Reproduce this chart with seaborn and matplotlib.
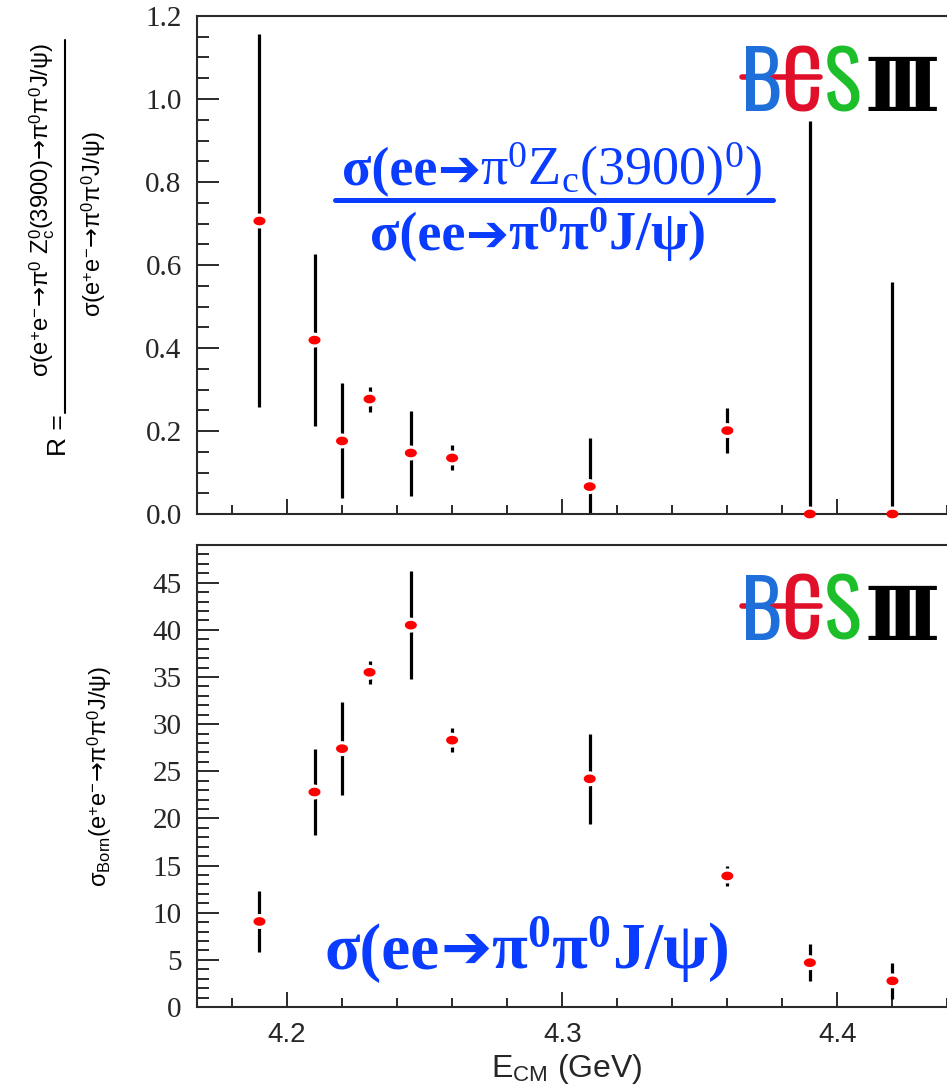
import numpy as np
import matplotlib
matplotlib.use("Agg")
import matplotlib.pyplot as plt
import seaborn as sns
from matplotlib import font_manager
from matplotlib.path import Path
from matplotlib.markers import MarkerStyle
from matplotlib.lines import Line2D
from matplotlib.offsetbox import TextArea, HPacker, AnnotationBbox
from matplotlib.ticker import MultipleLocator, FormatStrFormatter

# ---- data -------------------------------------------------------------
energy = [4.19, 4.21, 4.22, 4.23, 4.245, 4.26, 4.31, 4.36, 4.39, 4.42]

# ratio R = sigma(pi0 Zc(3900)0 -> pi0 pi0 J/psi) / sigma(pi0 pi0 J/psi)
ratio = [0.706, 0.419, 0.176, 0.277, 0.147, 0.135, 0.066, 0.201, 0.0, 0.0]
ratio_err_lo = [0.448, 0.207, 0.138, 0.032, 0.104, 0.030, 0.066, 0.053, 0.0, 0.0]
ratio_err_hi = [0.451, 0.207, 0.139, 0.028, 0.102, 0.031, 0.117, 0.055, 0.946, 0.560]

# Born cross section of e+e- -> pi0 pi0 J/psi (pb)
sigma_born = [9.07, 22.8, 27.4, 35.5, 40.5, 28.3, 24.2, 13.9, 4.7, 2.77]
sigma_err = [3.2, 4.6, 4.9, 1.25, 5.75, 1.25, 4.8, 1.05, 1.95, 1.9]

x_ticks = [4.2, 4.3, 4.4]
x_ticklabels = ["4.2", "4.3", "4.4"]

# ---- style ------------------------------------------------------------
sns.set_theme(style="white")
plt.rcParams.update({
    "font.family": ["Liberation Sans", "DejaVu Sans"],
    "mathtext.fontset": "custom",
    "mathtext.rm": "Liberation Serif",
    "mathtext.it": "Liberation Serif",
    "mathtext.bf": "Liberation Serif:bold",
    "mathtext.sf": "Liberation Sans",
    "mathtext.cal": "DejaVu Sans",
    "axes.edgecolor": "#2a2a2a",
    "axes.linewidth": 1.5,
})

installed = {f.name for f in font_manager.fontManager.ttflist}
logo_family = next((f for f in ["Oswald", "Roboto Condensed", "Archivo Narrow",
                                "PT Sans Narrow", "Liberation Sans Narrow"]
                    if f in installed), "DejaVu Sans")

W, H = 947, 1087
fig = plt.figure(figsize=(W / 100, H / 100), dpi=100)
fig.patch.set_facecolor("white")


def fx(px):
    return px / W


def fy(py):
    return 1 - py / H


x_min, x_max = 4.1673, 4.45
ax_left, ax_w = 197, 778
ax1 = fig.add_axes([fx(ax_left), fy(514), ax_w / W, (514 - 16) / H])
ax2 = fig.add_axes([fx(ax_left), fy(1007), ax_w / W, (1007 - 545) / H])

# ellipse-shaped markers plus a white halo that opens a gap in the bar
t = np.linspace(0, 2 * np.pi, 64)
dot = MarkerStyle(Path(np.column_stack([np.cos(t), 0.72 * np.sin(t)]), closed=True))
halo = MarkerStyle(Path(np.column_stack([np.cos(t), 1.15 * np.sin(t)]), closed=True))

blue = "#0a3cff"


def draw_points(ax, y, yerr):
    ax.errorbar(energy, y, yerr=yerr, fmt="none", ecolor="black",
                elinewidth=2.3, capsize=0, zorder=2)
    sns.scatterplot(x=energy, y=y, ax=ax, marker=halo, s=117, color="white",
                    edgecolor="none", linewidth=0, zorder=2.2, clip_on=False,
                    legend=False)
    sns.scatterplot(x=energy, y=y, ax=ax, marker=dot, s=75, color="red",
                    edgecolor="none", linewidth=0, zorder=3, clip_on=False,
                    legend=False)


draw_points(ax1, ratio, [ratio_err_lo, ratio_err_hi])
draw_points(ax2, sigma_born, sigma_err)

for ax in (ax1, ax2):
    ax.set_xlim(x_min, x_max)
    ax.xaxis.set_major_locator(MultipleLocator(0.1))
    ax.xaxis.set_minor_locator(MultipleLocator(0.02))
    ax.tick_params(axis="x", which="major", direction="in", length=11,
                   width=1.4, color="#2a2a2a", top=False, bottom=True)
    ax.tick_params(axis="x", which="minor", direction="in", length=6.5,
                   width=1.4, color="#2a2a2a", top=False, bottom=True)
    ax.tick_params(axis="y", which="major", direction="in", length=16,
                   width=1.4, color="#2a2a2a", right=False, left=True, pad=11)
    ax.tick_params(axis="y", which="minor", direction="in", length=8.5,
                   width=1.4, color="#2a2a2a", right=False, left=True)
    ax.spines["right"].set_visible(False)
    ax.set_xlabel("")
    ax.set_ylabel("")

ax1.set_ylim(0, 1.2)
ax1.yaxis.set_major_locator(MultipleLocator(0.2))
ax1.yaxis.set_minor_locator(MultipleLocator(0.05))
ax1.yaxis.set_major_formatter(FormatStrFormatter("%.1f"))
ax1.tick_params(axis="x", labelbottom=False)

ax2.set_ylim(0, 49)
ax2.yaxis.set_major_locator(MultipleLocator(5))
ax2.yaxis.set_minor_locator(MultipleLocator(1))
ax2.yaxis.set_major_formatter(FormatStrFormatter("%d"))
ax2.set_xticks(x_ticks)
ax2.set_xticklabels(x_ticklabels)
ax2.tick_params(axis="x", labelsize=20, pad=11)

for ax in (ax1, ax2):
    for lab in ax.get_yticklabels():
        lab.set_fontfamily("Liberation Serif")
        lab.set_fontsize(21)

ax2.set_xlabel(r"E$_{\mathsf{CM}}$ (GeV)", fontsize=23)
ax2.xaxis.label.set_va("baseline")
ax2.xaxis.set_label_coords((567 - ax_left) / ax_w, -(1077 - 1007) / (1007 - 545))

# ---- y-axis titles ----------------------------------------------------
sans = dict(family="Liberation Sans", color="black", rotation=90,
            ha="center", va="center")
arr = r"$\mathcal{→}$"          # unspaced arrow taken from DejaVu Sans
sup0 = r"$^{\mathsf{0}}$"
ee = r"e$^{\mathsf{+}}$e$^{\mathsf{-}}$"
numer = (f"σ({ee}{arr}π{sup0} " + r"Z$_{\mathsf{c}}^{\mathsf{0}}$"
         + f"(3900){arr}π{sup0}π{sup0}J/ψ)")
denom = f"σ({ee}{arr}π{sup0}π{sup0}J/ψ)"
fig.text(fx(42), fy(210), numer, fontsize=17.2, **sans)
fig.text(fx(94), fy(224), denom, fontsize=17, **sans)
fig.text(fx(59), fy(435), "R =", fontsize=19, **sans)
fig.add_artist(Line2D([fx(65), fx(65)], [fy(40), fy(413)], color="black",
                      lw=1.5, transform=fig.transFigure))

fig.text(fx(100), fy(776), r"σ$_{\mathsf{Born}}$(" + f"{ee}{arr}π{sup0}π{sup0}J/ψ)",
         fontsize=17, **sans)

# ---- blue process labels ------------------------------------------------
def serif(size, bold=True):
    return dict(color=blue, fontsize=size, family="Liberation Serif",
                weight="bold" if bold else "normal")


def arrow(size):
    return dict(color=blue, fontsize=size, family="DejaVu Sans", weight="bold")


def place(parts, cx, cy):
    box = HPacker(children=[TextArea(s, textprops=p) for s, p in parts],
                  align="baseline", pad=0, sep=0)
    fig.add_artist(AnnotationBbox(box, (cx, H - cy), xycoords="figure pixels",
                                  box_alignment=(0.5, 0.5), frameon=False, pad=0))


place([("σ(ee", serif(39)), ("➔", arrow(37)),
       (r"π$^{0}$Z$_{c}$(3900)$^{0}$)", serif(39, bold=False))], 552, 170)
place([("σ(ee", serif(39)), ("➔", arrow(37)),
       (r"π$^{\mathbf{0}}$π$^{\mathbf{0}}$J/ψ)", serif(39))], 538, 235)
fig.add_artist(Line2D([fx(335), fx(773)], [fy(200), fy(200)], color=blue,
                      lw=3.6, transform=fig.transFigure))
place([("σ(ee", serif(47)), ("➔", arrow(44)),
       (r"π$^{\mathbf{0}}$π$^{\mathbf{0}}$J/ψ)", serif(47))], 527, 950)

# ---- BESIII logos -------------------------------------------------------
def logo(top):
    base = top + 68
    kw = dict(fontsize=57, weight="semibold", va="baseline", ha="left",
              family=[logo_family, "DejaVu Sans"])
    fig.text(fx(741), fy(base), "B", color="#1e6fd9", **kw)
    fig.text(fx(781), fy(base), "C", color="#e0102a", **kw)
    fig.text(fx(824), fy(base), "S", color="#1cbf2a", **kw)
    fig.text(fx(864), fy(base), "Ⅲ", color="black", fontsize=54, weight="bold",
             va="baseline", ha="left", family=["DejaVu Serif", "DejaVu Sans"])
    fig.add_artist(Line2D([fx(742), fx(820)], [fy(top + 34), fy(top + 34)],
                          color="#e0102a", lw=4, transform=fig.transFigure))


logo(43)
logo(572)

fig.savefig("out.png", dpi=100, facecolor="white")
